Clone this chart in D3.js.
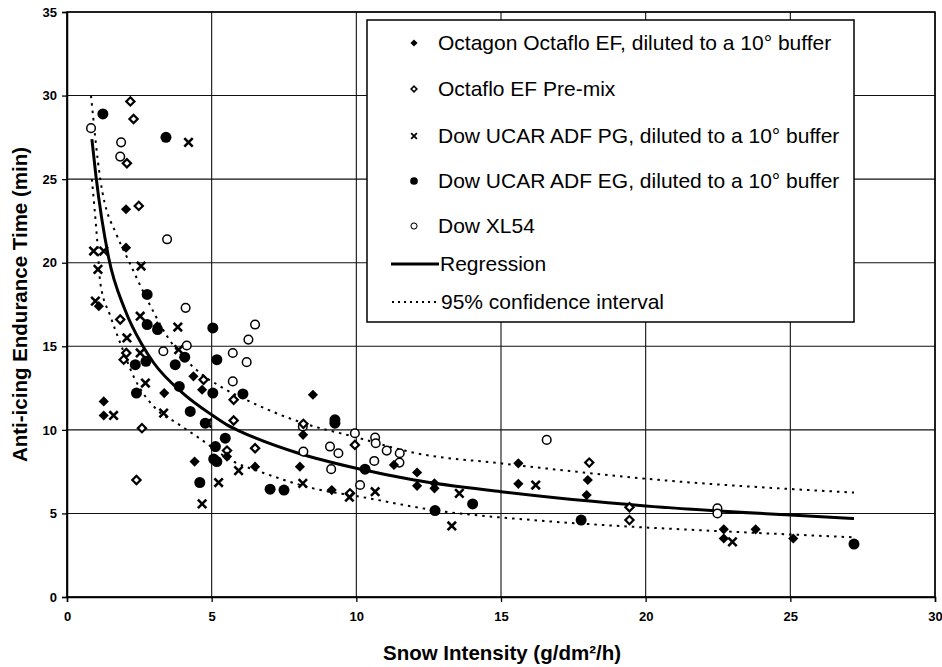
<!DOCTYPE html>
<html><head><meta charset="utf-8">
<script src="https://cdn.jsdelivr.net/npm/d3@7"></script>
<style>
html,body{margin:0;padding:0;background:#fff;}
svg{display:block;}
text{font-family:"Liberation Sans Narrow","Liberation Sans",Arial,sans-serif;}
</style></head>
<body>
<svg id="chart" width="942" height="667"></svg>
<script>
// ---------- DATA ----------
const xTicks = [0, 5, 10, 15, 20, 25, 30];
const yTicks = [0, 5, 10, 15, 20, 25, 30, 35];

const seriesNames = [
  "Octagon Octaflo EF, diluted to a 10° buffer",
  "Octaflo EF Pre-mix",
  "Dow UCAR ADF PG, diluted to a 10° buffer",
  "Dow UCAR ADF EG, diluted to a 10° buffer",
  "Dow XL54"
];
const lineNames = ["Regression", "95% confidence interval"];

const octagonX = [1.1,1.27,1.27,2.04,2.04,3.12,3.36,4.04,4.37,4.67,4.41,5.53,6.5,8.5,8.16,8.05,9.15,11.3,12.1,12.1,12.7,12.7,15.6,15.6,18.0,17.96,22.7,22.7,23.8,25.1];
const octagonY = [17.4,11.7,10.86,23.2,20.9,16.2,12.2,14.35,13.2,12.4,8.1,8.4,7.8,12.1,9.7,7.8,6.4,7.9,7.45,6.65,6.8,6.5,8.0,6.77,7.0,6.1,4.05,3.5,4.05,3.5];

const premixX = [2.19,2.3,2.07,2.48,1.84,2.05,1.96,2.59,2.4,4.72,5.76,5.76,5.53,6.5,8.17,9.95,9.78,18.05,19.44,19.44];
const premixY = [29.65,28.6,25.95,23.4,16.6,14.6,14.2,10.1,7.0,13.0,11.8,10.56,8.76,8.9,10.36,9.1,6.2,8.04,5.37,4.6];

const pgX = [0.92,1.27,1.07,0.98,2.56,2.53,3.83,2.07,2.53,3.86,2.71,3.34,1.61,4.84,4.2,5.24,4.67,5.93,8.15,9.76,10.65,13.56,13.3,16.2,23.0];
const pgY = [20.7,20.7,19.6,17.7,19.8,16.8,16.15,15.5,14.6,14.8,12.8,11.0,10.86,10.4,27.2,6.85,5.57,7.56,6.8,5.97,6.3,6.2,4.25,6.7,3.3];

const egX = [1.24,3.42,2.77,2.77,3.13,5.04,2.73,2.36,3.74,5.18,4.07,3.88,5.04,2.4,6.08,4.26,4.78,5.47,5.13,5.07,5.18,4.59,7.02,7.5,10.3,9.26,9.26,14.02,12.72,17.77,27.2];
const egY = [28.9,27.5,18.1,16.3,16.0,16.1,14.1,13.9,13.9,14.2,14.35,12.6,12.2,12.2,12.15,11.1,10.4,9.5,9.0,8.25,8.1,6.85,6.45,6.4,7.65,10.4,10.6,5.57,5.17,4.6,3.17];

const xl54X = [0.83,1.87,1.84,3.46,4.1,6.5,6.27,4.14,3.33,5.73,6.21,5.73,9.09,9.38,9.13,10.65,10.67,10.62,11.05,11.5,11.49,10.13,16.58,22.48,22.48,8.17,9.95,8.15];
const xl54Y = [28.05,27.2,26.35,21.4,17.3,16.3,15.4,15.05,14.7,14.6,14.05,12.9,9.0,8.6,7.65,9.54,9.2,8.14,8.76,8.6,8.04,6.7,9.4,5.3,5.0,8.7,9.8,10.2];

const regX = [0.86,1,1.44,2,2.59,3,4,5,5.53,6,8,10,12,15,20,25,27.2];
const regY = [27.4,25.2,20.3,17.2,15.1,14.0,12.2,10.9,10.3,9.9,8.6,7.7,7.0,6.3,5.45,4.9,4.7];

const upperX = [0.83,1.15,1.73,2.0,2.77,3.46,4.6,5.3,6.56,8.17,9.9,12.08,14.97,17.85,20.5,25.1,27.2];
const upperY = [30.0,25.0,21.6,20.6,17.8,15.6,13.4,12.6,11.5,10.4,9.6,8.6,8.0,7.45,7.0,6.45,6.25];

const lowerX = [0.86,1.04,1.15,1.5,1.84,2.3,3.11,3.8,4.49,5.76,6.67,8.51,10.13,12.78,16.12,19.57,23.03,27.2];
const lowerY = [25.0,21.4,18.8,16.8,15.2,13.2,11.2,10.4,9.6,8.1,7.5,6.5,6.0,5.17,4.6,4.2,3.9,3.57];

// ---------- CHART ----------
const svg = d3.select("#chart");
const L = 67, R = 935, T = 12, B = 597;
const x = d3.scaleLinear().domain([0, 30]).range([L, R]);
const y = d3.scaleLinear().domain([0, 35]).range([B, T]);

// gridlines
const grid = svg.append("g");
grid.selectAll("line.h").data(yTicks).join("line")
  .attr("x1", L).attr("x2", R).attr("y1", d => y(d)).attr("y2", d => y(d))
  .attr("stroke", "#111").attr("stroke-width", 1.1);
grid.selectAll("line.v").data(xTicks).join("line")
  .attr("y1", T).attr("y2", B).attr("x1", d => x(d)).attr("x2", d => x(d))
  .attr("stroke", "#111").attr("stroke-width", 1.1);

// axes
const xAxis = d3.axisBottom(x).tickValues(xTicks).tickSize(5).tickPadding(10);
const yAxis = d3.axisLeft(y).tickValues(yTicks).tickSize(5).tickPadding(5);
const gx = svg.append("g").attr("transform", `translate(0,${B})`).call(xAxis);
const gy = svg.append("g").attr("transform", `translate(${L},0)`).call(yAxis);
[gx, gy].forEach(g => {
  g.select(".domain").attr("stroke", "#000").attr("stroke-width", 1.5);
  g.selectAll(".tick line").attr("stroke", "#000").attr("stroke-width", 1.3);
  g.selectAll(".tick text").attr("fill", "#000").style("font-size", "13px")
    .style("font-weight", "bold")
    .style("font-family", '"Liberation Sans Narrow","Liberation Sans",Arial,sans-serif');
});
// frame
svg.append("rect").attr("x", L).attr("y", T).attr("width", R - L).attr("height", B - T)
  .attr("fill", "none").attr("stroke", "#000").attr("stroke-width", 1.5);

// axis titles
svg.append("text").attr("x", 502).attr("y", 660).attr("text-anchor", "middle")
  .style("font-size", "20.5px").style("font-weight", "bold").text("Snow Intensity (g/dm²/h)");
svg.append("text").attr("transform", `translate(27,${(T + B) / 2}) rotate(-90)`)
  .attr("text-anchor", "middle").style("font-size", "20.5px").style("font-weight", "bold")
  .text("Anti-icing Endurance Time (min)");

// lines
const lineGen = d3.line().x(d => x(d[0])).y(d => y(d[1])).curve(d3.curveMonotoneX);
const zip = (a, b) => a.map((v, i) => [v, b[i]]);
svg.append("path").attr("d", lineGen(zip(upperX, upperY))).attr("fill", "none")
  .attr("stroke", "#000").attr("stroke-width", 2).attr("stroke-dasharray", "2.5,5");
svg.append("path").attr("d", lineGen(zip(lowerX, lowerY))).attr("fill", "none")
  .attr("stroke", "#000").attr("stroke-width", 2).attr("stroke-dasharray", "2.5,5");
svg.append("path").attr("d", lineGen(zip(regX, regY))).attr("fill", "none")
  .attr("stroke", "#000").attr("stroke-width", 3);

// markers
function drawMarker(g, type, scale) {
  const s = scale || 1;
  if (type === 0) {
    g.append("path").attr("d", d3.symbol(d3.symbolSquare, 52 * s * s)())
      .attr("transform", "rotate(45)").attr("fill", "#000");
  } else if (type === 1) {
    g.append("path").attr("d", d3.symbol(d3.symbolSquare, 34 * s * s)())
      .attr("transform", "rotate(45)").attr("fill", "#fff").attr("stroke", "#000").attr("stroke-width", 2.2 * s);
  } else if (type === 2) {
    g.append("path").attr("d", d3.symbol(d3.symbolX, 48 * s * s)())
      .attr("fill", "none").attr("stroke", "#000").attr("stroke-width", 2.6 * s);
  } else if (type === 3) {
    g.append("circle").attr("r", 5.5 * s).attr("fill", "#000");
  } else {
    g.append("circle").attr("r", 4.3 * s).attr("fill", "#fff").attr("stroke", "#000").attr("stroke-width", 1.5 * s);
  }
}
const allSeries = [
  [octagonX, octagonY], [premixX, premixY], [pgX, pgY], [egX, egY], [xl54X, xl54Y]
];
const drawOrder = [4, 1, 0, 2, 3];
drawOrder.forEach(si => {
  const [xs, ys] = allSeries[si];
  xs.forEach((xv, i) => {
    const g = svg.append("g").attr("transform", `translate(${x(xv)},${y(ys[i])})`);
    drawMarker(g, si, 1);
  });
});

// legend
const lg = svg.append("g");
lg.append("rect").attr("x", 367).attr("y", 20).attr("width", 487).attr("height", 302)
  .attr("fill", "#fff").attr("stroke", "#000").attr("stroke-width", 1.5);
const rowY = [43, 89, 136, 181, 226, 264, 302];
const legFont = '"Liberation Sans",Arial,sans-serif';
seriesNames.forEach((name, i) => {
  const g = lg.append("g").attr("transform", `translate(414,${rowY[i]})`);
  drawMarker(g, i, 0.7);
  lg.append("text").attr("x", 438).attr("y", rowY[i] + 7).style("font-size", "21px")
    .style("font-family", legFont).text(name);
});
lg.append("line").attr("x1", 391).attr("x2", 439).attr("y1", rowY[5]).attr("y2", rowY[5])
  .attr("stroke", "#000").attr("stroke-width", 3);
lg.append("text").attr("x", 440).attr("y", rowY[5] + 7).style("font-size", "21px")
  .style("font-family", legFont).text(lineNames[0]);
lg.append("line").attr("x1", 392).attr("x2", 440).attr("y1", rowY[6]).attr("y2", rowY[6])
  .attr("stroke", "#000").attr("stroke-width", 2).attr("stroke-dasharray", "2,4");
lg.append("text").attr("x", 441).attr("y", rowY[6] + 7).style("font-size", "21px")
  .style("font-family", legFont).text(lineNames[1]);
</script>
</body></html>
